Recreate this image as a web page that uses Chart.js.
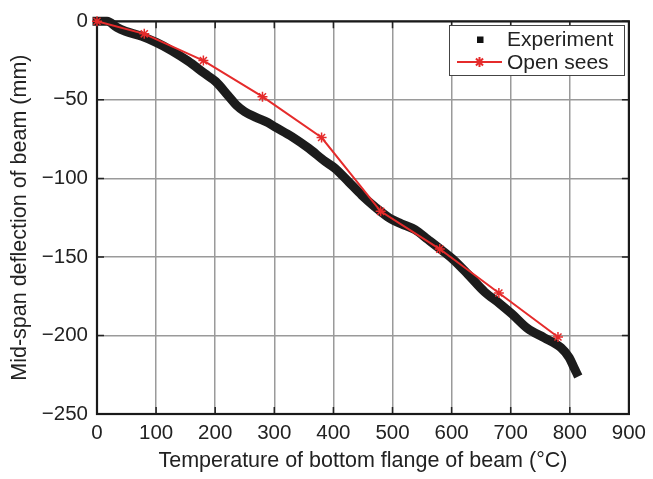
<!DOCTYPE html>
<html>
<head>
<meta charset="utf-8">
<script src="https://cdn.jsdelivr.net/npm/chart.js@4/dist/chart.umd.min.js"></script>
<style>
  html, body { margin: 0; padding: 0; background: #ffffff; }
  #c { display: block; }
</style>
</head>
<body>
<canvas id="c" width="653" height="479"></canvas>
<script>
// ---- Data ----
const experimentTemp = [0, 17, 34, 48, 76, 101, 126, 154, 182, 201, 222, 236, 250, 268, 289, 301, 330, 358, 386, 402, 426, 448, 470, 498, 515, 538, 560, 583, 602, 628, 656, 681, 702, 729, 757, 785, 799, 807, 811];
const experimentDefl = [0, 0, -4, -6.3, -9.6, -13.6, -18.6, -25.3, -33.2, -38.4, -47.4, -53.5, -57.6, -61, -64.5, -67.2, -73.5, -80.8, -89.2, -93.4, -102.3, -110.7, -118, -126, -128.9, -132.6, -138.9, -145.6, -151.4, -161.2, -172.3, -179.6, -186.3, -195.7, -201.5, -207.8, -214.1, -220.4, -223.5];

const openseesTemp = [0, 80, 180, 280, 380, 480, 580, 680, 780];
const openseesDefl = [0, -8, -25, -48, -74, -121, -145, -173, -201];

const xTicks = [0, 100, 200, 300, 400, 500, 600, 700, 800, 900];
const yTicks = [0, -50, -100, -150, -200, -250];

const seriesNames = ['Experiment', 'Open sees'];
const xTitle = 'Temperature of bottom flange of beam (\u00B0C)';
const yTitle = 'Mid-span deflection of beam (mm)';

// ---- Styles ----
const FONT = '"Liberation Sans", Arial, Helvetica, sans-serif';
const TEXT = '#222222';
const RED = '#e52b2b';

const toXY = (xs, ys) => xs.map((x, i) => ({ x: x, y: ys[i] }));

const framePlugin = {
  id: 'frame',
  beforeDatasetsDraw(chart) {
    const { ctx, chartArea: a, scales } = chart;
    ctx.save();
    ctx.strokeStyle = '#222';
    ctx.lineWidth = 1.5;
    const L = 7;
    xTicks.forEach(v => {
      const px = scales.x.getPixelForValue(v);
      ctx.beginPath();
      ctx.moveTo(px, a.bottom); ctx.lineTo(px, a.bottom - L);
      ctx.moveTo(px, a.top); ctx.lineTo(px, a.top + L);
      ctx.stroke();
    });
    yTicks.forEach(v => {
      const py = scales.y.getPixelForValue(v);
      ctx.beginPath();
      ctx.moveTo(a.left, py); ctx.lineTo(a.left + L, py);
      ctx.moveTo(a.right, py); ctx.lineTo(a.right - L, py);
      ctx.stroke();
    });
    ctx.strokeStyle = '#1a1a1a';
    ctx.lineWidth = 2.2;
    ctx.strokeRect(a.left, a.top, a.right - a.left, a.bottom - a.top);
    ctx.restore();
  }
};

const legendPlugin = {
  id: 'customLegend',
  afterDraw(chart) {
    const ctx = chart.ctx;
    ctx.save();
    const bx = 449.5, by = 25.5, bw = 175, bh = 50;
    ctx.fillStyle = '#ffffff';
    ctx.fillRect(bx, by, bw, bh);
    ctx.strokeStyle = '#444';
    ctx.lineWidth = 1;
    ctx.strokeRect(bx, by, bw, bh);
    ctx.fillStyle = '#111';
    ctx.fillRect(477, 36.5, 6.5, 6.5);
    ctx.strokeStyle = RED;
    ctx.lineWidth = 2;
    ctx.beginPath();
    ctx.moveTo(457, 62); ctx.lineTo(502, 62);
    ctx.stroke();
    Chart.helpers.drawPoint(ctx, { pointStyle: 'star', radius: 5, borderWidth: 1.5 }, 479.5, 62);
    ctx.fillStyle = TEXT;
    ctx.font = '21px ' + FONT;
    ctx.textAlign = 'left';
    ctx.textBaseline = 'alphabetic';
    ctx.fillText(seriesNames[0], 507, 45.5);
    ctx.fillText(seriesNames[1], 507, 68.5);
    ctx.restore();
  }
};

new Chart(document.getElementById('c'), {
  type: 'scatter',
  data: {
    datasets: [
      {
        label: seriesNames[0],
        data: toXY(experimentTemp, experimentDefl),
        showLine: true,
        borderColor: '#1c1c1c',
        backgroundColor: '#1c1c1c',
        borderWidth: 9,
        cubicInterpolationMode: 'monotone',
        borderJoinStyle: 'round',
        borderCapStyle: 'square',
        pointRadius: 0,
        order: 2,
        clip: false
      },
      {
        label: seriesNames[1],
        data: toXY(openseesTemp, openseesDefl),
        showLine: true,
        borderColor: RED,
        backgroundColor: RED,
        borderWidth: 2,
        pointStyle: 'star',
        pointRadius: 5,
        pointBorderWidth: 1.5,
        pointBorderColor: RED,
        order: 1,
        clip: false
      }
    ]
  },
  options: {
    responsive: false,
    animation: false,
    events: [],
    layout: { padding: { top: 15, right: 21, left: 0, bottom: 0 } },
    plugins: {
      legend: { display: false },
      tooltip: { enabled: false }
    },
    scales: {
      x: {
        type: 'linear',
        min: 0, max: 900,
        afterFit: s => { s.height = 65; },
        afterBuildTicks: s => { s.ticks = xTicks.map(v => ({ value: v })); },
        grid: { color: '#9a9a9a', lineWidth: 1.5, drawTicks: false },
        border: { display: false },
        ticks: {
          padding: 7,
          color: TEXT,
          font: { family: FONT, size: 20.5 },
          maxRotation: 0,
          callback: v => String(v)
        },
        title: {
          display: true,
          text: xTitle,
          color: TEXT,
          font: { family: FONT, size: 21.5 },
          padding: { top: 0, bottom: 5 }
        }
      },
      y: {
        type: 'linear',
        min: -250, max: 0,
        afterFit: s => { s.width = 97; },
        afterBuildTicks: s => { s.ticks = yTicks.map(v => ({ value: v })); },
        grid: { color: '#9a9a9a', lineWidth: 1.5, drawTicks: false },
        border: { display: false },
        ticks: {
          padding: 9,
          color: TEXT,
          font: { family: FONT, size: 20.5 },
          callback: v => String(v).replace('-', '\u2212')
        },
        title: {
          display: true,
          text: yTitle,
          color: TEXT,
          font: { family: FONT, size: 21.5 },
          padding: { top: 7, bottom: 0 }
        }
      }
    }
  },
  plugins: [framePlugin, legendPlugin]
});
</script>
</body>
</html>
